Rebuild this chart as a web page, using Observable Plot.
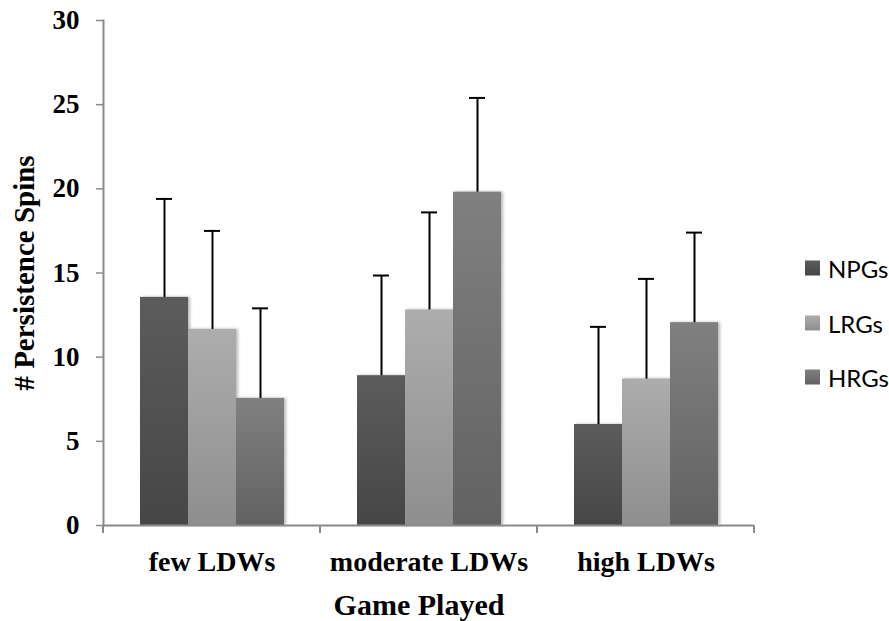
<!DOCTYPE html>
<html>
<head>
<meta charset="utf-8">
<script src="https://cdn.jsdelivr.net/npm/d3@7"></script>
<script src="https://cdn.jsdelivr.net/npm/@observablehq/plot@0.6"></script>
<style>
  html, body { margin: 0; padding: 0; background: #fff; }
  #wrap { position: relative; width: 889px; height: 621px; }
  #legend { position: absolute; left: 805px; top: 0; font-family: Lato, "Open Sans", sans-serif; font-size: 24px; color: #000; }
  .item { position: absolute; left: 0; display: flex; align-items: center; white-space: nowrap; transform: translateY(-50%); }
  .sw { width: 15px; height: 15px; margin-right: 8px; }
</style>
</head>
<body>
<div id="wrap"><div id="legend"></div></div>
<script>
const categories = ["few LDWs", "moderate LDWs", "high LDWs"];
const series = ["NPGs", "LRGs", "HRGs"];
const npgValues = [13.55, 8.9, 6.0];
const lrgValues = [11.65, 12.8, 8.7];
const hrgValues = [7.55, 19.8, 12.05];
const npgErrors = [5.85, 5.95, 5.8];
const lrgErrors = [5.85, 5.8, 5.95];
const hrgErrors = [5.35, 5.6, 5.35];
const yTicks = [0, 5, 10, 15, 20, 25, 30];

const gradients = {
  NPGs: ["#5c5c5c", "#464646"],
  LRGs: ["#adadad", "#8e8e8e"],
  HRGs: ["#808080", "#626262"]
};
const gradId = {NPGs: "gNPG", LRGs: "gLRG", HRGs: "gHRG"};

const valuesBySeries = [npgValues, lrgValues, hrgValues];
const errorsBySeries = [npgErrors, lrgErrors, hrgErrors];
const data = categories.flatMap((c, i) => series.map((s, j) => ({
  category: c, group: s, value: valuesBySeries[j][i], top: valuesBySeries[j][i] + errorsBySeries[j][i]
})));

function boundaryTicks(index, scales, values, dimensions) {
  let r = null;
  if (scales.scales && scales.scales.x && scales.scales.x.range) r = scales.scales.x.range;
  else if (typeof scales.x.range === "function") r = scales.x.range();
  const y0 = scales.y(0);
  const g = d3.create("svg:g").attr("stroke", "#8a8a8a").attr("stroke-width", 2);
  for (const xv of r) g.append("line").attr("x1", xv).attr("x2", xv).attr("y1", y0).attr("y2", y0 + 8);
  return g.node();
}

const chart = Plot.plot({
  width: 889,
  height: 621,
  marginLeft: 102,
  marginRight: 134,
  marginTop: 20,
  marginBottom: 96,
  style: {fontFamily: "'Liberation Serif', 'Times New Roman', serif", background: "white", color: "black"},
  fx: {domain: categories, padding: 0, axis: null, label: null},
  x: {domain: series, paddingInner: 0, paddingOuter: 0.74, axis: null},
  y: {domain: [0, 30], axis: null},
  color: {domain: series, range: series.map(s => `url(#${gradId[s]})`)},
  marks: [
    Plot.frame({anchor: "left", facetAnchor: "left", stroke: "#8a8a8a", strokeWidth: 2}),
    Plot.axisY({
      ticks: yTicks, tickSize: 7, tickPadding: 17, stroke: "#8a8a8a", fill: "black",
      fontSize: 27, fontWeight: "bold", label: null, tickFormat: d => String(d),
      facetAnchor: "left", strokeWidth: 1.5
    }),
    Plot.barY(data, {fx: "category", x: "group", y: "value", fill: "group",
      imageFilter: "drop-shadow(2px 0px 1.5px rgba(0,0,0,0.28))"}),
    Plot.ruleX(data, {fx: "category", x: "group", y1: "value", y2: "top", stroke: "black", strokeWidth: 2}),
    Plot.tickY(data, {fx: "category", x: "group", y: "top", stroke: "black", strokeWidth: 2, insetLeft: 16, insetRight: 16}),
    Plot.ruleY([0], {stroke: "#8a8a8a", strokeWidth: 2, render: (i, s, v, d, c, next) => {
      const g = d3.create("svg:g");
      g.append(() => next(i, s, v, d, c));
      g.append(() => boundaryTicks(i, s, v, d));
      return g.node();
    }}),
    Plot.text(categories, {fx: d => d, text: d => d, frameAnchor: "bottom", dy: 37, lineAnchor: "middle",
      fontSize: 28, fontWeight: "bold", fill: "black"}),
    Plot.text(["Game Played"], {text: d => d, frameAnchor: "bottom", dy: 80, dx: -10, lineAnchor: "middle",
      fontSize: 30, fontWeight: "bold", fill: "black", facet: "super"}),
    Plot.text(["# Persistence Spins"], {text: d => d, frameAnchor: "left", dx: -79, rotate: -90,
      textAnchor: "middle", lineAnchor: "middle", fontSize: 29, fontWeight: "bold", fill: "black", facet: "super"})
  ]
});

const defs = d3.select(chart).insert("defs", ":first-child");
for (const s of series) {
  const lg = defs.append("linearGradient").attr("id", gradId[s]).attr("x1", 0).attr("y1", 0).attr("x2", 0).attr("y2", 1);
  lg.append("stop").attr("offset", "0%").attr("stop-color", gradients[s][0]);
  lg.append("stop").attr("offset", "100%").attr("stop-color", gradients[s][1]);
}

document.getElementById("wrap").prepend(chart);

const legendTops = [268, 323, 377];
const legend = document.getElementById("legend");
series.forEach((s, i) => {
  const item = document.createElement("div");
  item.className = "item";
  item.style.top = legendTops[i] + "px";
  const sw = document.createElement("span");
  sw.className = "sw";
  sw.style.background = `linear-gradient(${gradients[s][0]}, ${gradients[s][1]})`;
  const t = document.createElement("span");
  t.textContent = s;
  item.append(sw, t);
  legend.append(item);
});
</script>
</body>
</html>
